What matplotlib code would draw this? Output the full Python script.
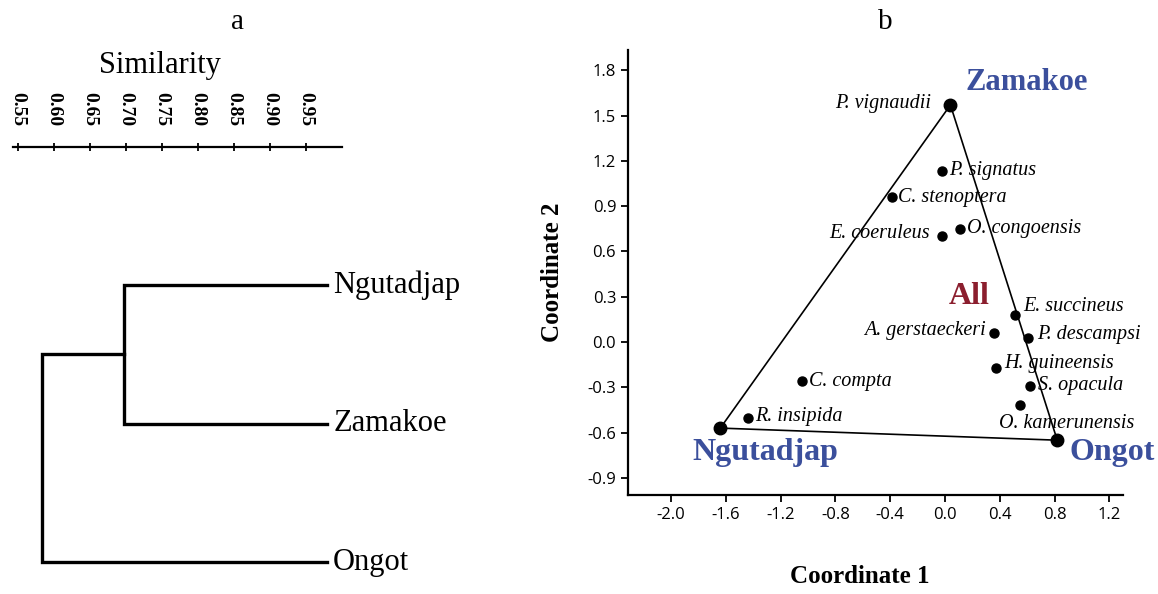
import matplotlib
matplotlib.use('Agg')
import matplotlib.pyplot as plt

# ---- panel a: dendrogram ----
leaves = ['Ngutadjap', 'Zamakoe', 'Ongot']
leaf_sim = 0.98
join_inner = 0.697   # Ngutadjap + Zamakoe
join_root = 0.583    # + Ongot
sim_ticks = [0.55, 0.60, 0.65, 0.70, 0.75, 0.80, 0.85, 0.90, 0.95]

# ---- panel b: ordination ----
species = ['P. vignaudii', 'P. signatus', 'C. stenoptera', 'E. coeruleus', 'O. congoensis',
           'E. succineus', 'A. gerstaeckeri', 'P. descampsi', 'H. guineensis', 'S. opacula',
           'O. kamerunensis', 'R. insipida', 'C. compta']
coord1 = [0.04, -0.02, -0.39, -0.02, 0.11, 0.51, 0.36, 0.61, 0.37, 0.62, 0.55, -1.44, -1.04]
coord2 = [1.57, 1.13, 0.96, 0.70, 0.75, 0.18, 0.06, 0.03, -0.17, -0.29, -0.42, -0.50, -0.26]

sites = ['Zamakoe', 'Ngutadjap', 'Ongot']
site_c1 = [0.04, -1.64, 0.82]
site_c2 = [1.57, -0.57, -0.65]

xticks_b = [-2.0, -1.6, -1.2, -0.8, -0.4, 0.0, 0.4, 0.8, 1.2]
yticks_b = [-0.9, -0.6, -0.3, 0.0, 0.3, 0.6, 0.9, 1.2, 1.5, 1.8]

serif = 'Liberation Serif'
sans = 'Open Sans'
blue = '#3b4f9c'
red = '#8b1e2e'

fig = plt.figure(figsize=(11.58, 5.94), dpi=100)

# panel a
axa = fig.add_axes([0.0, 0.0, 470 / 1158, 1 - 147 / 594])
axa.set_xlim(0.525, 1.178)
axa.set_ylim(2.23, -0.996)
for s in ['left', 'right', 'bottom']:
    axa.spines[s].set_visible(False)
axa.spines['top'].set_bounds(0.543, 1.0)
axa.spines['top'].set_linewidth(1.6)
axa.set_yticks([])
axa.xaxis.tick_top()
axa.set_xticks(sim_ticks)
axa.set_xticklabels(['%.2f' % t for t in sim_ticks], rotation=-90, family=serif, fontsize=14,
                    weight='bold')
axa.tick_params(axis='x', direction='inout', length=6, width=1.3, pad=12)

lw = 2.4
y_ng, y_za, y_on = 0, 1, 2
y_mid = (y_ng + y_za) / 2
axa.plot([leaf_sim, join_inner, join_inner, leaf_sim], [y_ng, y_ng, y_za, y_za], color='black', lw=lw,
         solid_joinstyle='miter')
axa.plot([join_inner, join_root, join_root, leaf_sim], [y_mid, y_mid, y_on, y_on], color='black', lw=lw,
         solid_joinstyle='miter')
for i, name in enumerate(leaves):
    axa.text(leaf_sim + 0.008, i, name, family=serif, fontsize=22, va='center', ha='left')

fig.text(160 / 1158, 1 - 66 / 594, 'Similarity', family=serif, fontsize=22, ha='center', va='center')
fig.text(238 / 1158, 1 - 22 / 594, 'a', family=serif, fontsize=21, ha='center', va='center')

# panel b
axb = fig.add_axes([628 / 1158, 1 - 495 / 594, 495 / 1158, 445 / 594])
axb.set_xlim(-2.314, 1.30)
axb.set_ylim(-1.013, 1.934)
axb.spines['top'].set_visible(False)
axb.spines['right'].set_visible(False)
axb.spines['left'].set_linewidth(1.6)
axb.spines['bottom'].set_linewidth(1.6)
axb.set_xticks(xticks_b)
axb.set_yticks(yticks_b)
axb.set_xticklabels(['%.1f' % t for t in xticks_b], family=sans, fontsize=12)
axb.set_yticklabels(['%.1f' % t for t in yticks_b], family=sans, fontsize=12)
axb.tick_params(direction='out', length=5, width=1.3)

# triangle joining the sites
tri_x = site_c1 + [site_c1[0]]
tri_y = site_c2 + [site_c2[0]]
axb.plot(tri_x, tri_y, color='black', lw=1.2, zorder=2)
axb.plot(site_c1, site_c2, 'o', color='black', ms=9, zorder=3)
axb.plot(coord1, coord2, 'o', color='black', ms=6.5, zorder=3)

offsets = {
    'P. vignaudii': (-14, 1, 'right', 'center'),
    'P. signatus': (5, 1, 'left', 'center'),
    'C. stenoptera': (5, 0, 'left', 'center'),
    'E. coeruleus': (-9, 2, 'right', 'center'),
    'O. congoensis': (5, 0, 'left', 'center'),
    'E. succineus': (6, 6, 'left', 'center'),
    'A. gerstaeckeri': (-6, 2, 'right', 'center'),
    'P. descampsi': (6, 2, 'left', 'center'),
    'H. guineensis': (6, 3, 'left', 'center'),
    'S. opacula': (6, 0, 'left', 'center'),
    'O. kamerunensis': (-15, -6, 'left', 'top'),
    'R. insipida': (5, 1, 'left', 'center'),
    'C. compta': (5, 0, 'left', 'center'),
}
for name, x, y in zip(species, coord1, coord2):
    dx, dy, ha, va = offsets[name]
    axb.annotate(name, (x, y), xytext=(dx, dy), textcoords='offset points', ha=ha, va=va,
                 family=serif, style='italic', fontsize=14.5, zorder=4)

axb.text(0.15, 1.72, 'Zamakoe', color=blue, family=serif, weight='bold', fontsize=22, ha='left', va='center')
axb.text(0.18, 0.30, 'All', color=red, family=serif, weight='bold', fontsize=23, ha='center', va='center')
axb.text(-1.31, -0.73, 'Ngutadjap', color=blue, family=serif, weight='bold', fontsize=23, ha='center',
         va='center')
axb.text(1.22, -0.73, 'Ongot', color=blue, family=serif, weight='bold', fontsize=23, ha='center', va='center',
         clip_on=False)

axb.set_xlabel('Coordinate 1', family=serif, weight='bold', fontsize=18)
axb.set_ylabel('Coordinate 2', family=serif, weight='bold', fontsize=18)
axb.xaxis.set_label_coords(0.469, -0.158)
axb.yaxis.set_label_coords(-0.13, 0.5)

fig.text(885 / 1158, 1 - 22 / 594, 'b', family=serif, fontsize=21, ha='center', va='center')

fig.savefig('out.png', dpi=100)
